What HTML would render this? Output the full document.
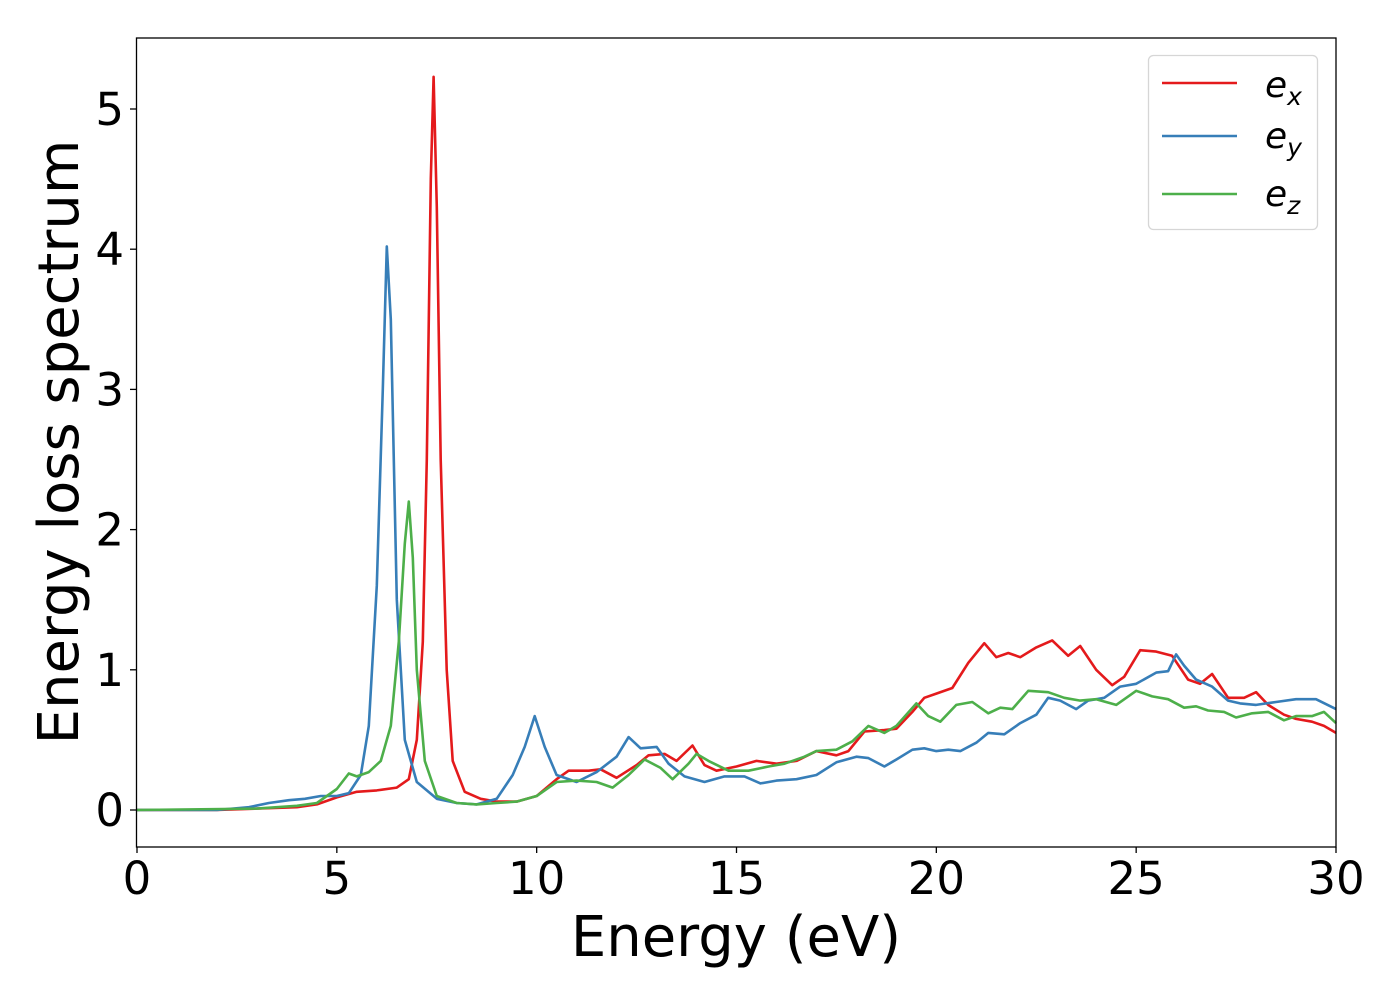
<!DOCTYPE html>
<html><head><meta charset="utf-8"><style>
body{margin:0;background:#fff}
svg{display:block}
text{font-family:"DejaVu Sans","Liberation Sans",sans-serif;fill:#000}
</style></head><body>
<svg id="chart" width="1400" height="1000" viewBox="0 0 1400 1000" xmlns="http://www.w3.org/2000/svg">
<rect x="0" y="0" width="1400" height="1000" fill="#fff"/>
<g id="series"></g>
<rect x="136.5" y="38" width="1199.5" height="809" fill="none" stroke="#000" stroke-width="1.3"/>
<g id="xticks"></g>
<g id="yticks"></g>
<text x="736" y="956" font-size="56" text-anchor="middle">Energy (eV)</text>
<text transform="translate(78,442) rotate(-90)" font-size="56" text-anchor="middle">Energy loss spectrum</text>
<g>
<rect x="1148.5" y="55.5" width="169" height="174" rx="5" fill="#fff" fill-opacity="0.8" stroke="#d6d6d6" stroke-width="1.3"/>
<line x1="1162" y1="83" x2="1237" y2="83" stroke="#e41a1c" stroke-width="2.6"/>
<text x="1265" y="97" font-size="36" font-style="italic">e<tspan font-size="25" dy="8">x</tspan></text>
<line x1="1162" y1="136" x2="1237" y2="136" stroke="#377eb8" stroke-width="2.6"/>
<text x="1265" y="148" font-size="36" font-style="italic">e<tspan font-size="25" dy="8">y</tspan></text>
<line x1="1162" y1="194" x2="1237" y2="194" stroke="#4daf4a" stroke-width="2.6"/>
<text x="1265" y="206" font-size="36" font-style="italic">e<tspan font-size="25" dy="8">z</tspan></text>
</g>
</svg>
<script>
const xTickValues=[0,5,10,15,20,25,30];
const yTickValues=[0,1,2,3,4,5];
const exE=[0,2,3,4,4.5,5,5.5,6,6.5,6.8,7.0,7.15,7.25,7.35,7.42,7.5,7.6,7.75,7.9,8.2,8.6,9,9.5,10,10.5,10.8,11.3,11.6,12,12.5,12.8,13.2,13.5,13.9,14.2,14.5,15,15.5,16,16.5,17,17.5,17.8,18.2,18.7,19,19.4,19.7,20,20.4,20.8,21.2,21.5,21.8,22.1,22.5,22.9,23.3,23.6,24,24.4,24.7,25.1,25.5,25.9,26.3,26.6,26.9,27.3,27.7,28,28.3,28.7,29,29.4,29.7,30];
const exV=[0,0,0.01,0.02,0.04,0.09,0.13,0.14,0.16,0.22,0.5,1.2,2.5,4.5,5.23,4.3,2.5,1.0,0.35,0.13,0.08,0.06,0.06,0.1,0.22,0.28,0.28,0.29,0.23,0.32,0.39,0.4,0.35,0.46,0.32,0.28,0.31,0.35,0.33,0.35,0.42,0.39,0.42,0.56,0.57,0.58,0.7,0.8,0.83,0.87,1.05,1.19,1.09,1.12,1.09,1.16,1.21,1.1,1.17,1.0,0.89,0.95,1.14,1.13,1.1,0.93,0.9,0.97,0.8,0.8,0.84,0.75,0.68,0.65,0.63,0.6,0.55];
const eyE=[0,2,2.8,3.3,3.8,4.2,4.6,5.0,5.3,5.6,5.8,6.0,6.15,6.25,6.35,6.5,6.7,7.0,7.5,8,8.5,9,9.4,9.7,9.95,10.2,10.5,11,11.5,12,12.3,12.6,13,13.3,13.7,14.2,14.7,15.2,15.6,16,16.5,17,17.5,18,18.3,18.7,19,19.4,19.7,20,20.3,20.6,21,21.3,21.7,22.1,22.5,22.8,23.1,23.5,23.8,24.2,24.6,25,25.5,25.8,26,26.2,26.5,26.9,27.3,27.6,28,28.5,29,29.5,30];
const eyV=[0,0,0.02,0.05,0.07,0.08,0.1,0.1,0.12,0.25,0.6,1.6,3.0,4.02,3.5,1.5,0.5,0.2,0.08,0.05,0.04,0.08,0.25,0.45,0.67,0.45,0.25,0.2,0.27,0.38,0.52,0.44,0.45,0.33,0.24,0.2,0.24,0.24,0.19,0.21,0.22,0.25,0.34,0.38,0.37,0.31,0.36,0.43,0.44,0.42,0.43,0.42,0.48,0.55,0.54,0.62,0.68,0.8,0.78,0.72,0.78,0.8,0.88,0.9,0.98,0.99,1.11,1.03,0.93,0.88,0.78,0.76,0.75,0.77,0.79,0.79,0.72];
const ezE=[0,3,4,4.5,5.0,5.3,5.5,5.8,6.1,6.35,6.55,6.7,6.8,6.9,7.0,7.2,7.5,8,8.5,9,9.5,10,10.5,11,11.5,11.9,12.3,12.7,13.1,13.4,13.8,14,14.3,14.8,15.3,15.8,16.2,16.7,17,17.5,17.9,18.3,18.7,19,19.5,19.8,20.1,20.5,20.9,21.3,21.6,21.9,22.3,22.8,23.2,23.6,24,24.5,25,25.4,25.8,26.2,26.5,26.8,27.2,27.5,27.9,28.3,28.7,29,29.4,29.7,30];
const ezV=[0,0.01,0.03,0.05,0.15,0.26,0.24,0.27,0.35,0.6,1.2,1.9,2.2,1.8,1.0,0.35,0.1,0.05,0.04,0.05,0.06,0.1,0.2,0.21,0.2,0.16,0.25,0.36,0.3,0.22,0.33,0.4,0.35,0.28,0.28,0.31,0.33,0.38,0.42,0.43,0.49,0.6,0.55,0.6,0.76,0.67,0.63,0.75,0.77,0.69,0.73,0.72,0.85,0.84,0.8,0.78,0.79,0.75,0.85,0.81,0.79,0.73,0.74,0.71,0.7,0.66,0.69,0.7,0.64,0.67,0.67,0.7,0.62];

const X0=137,X1=1336,Y0=810,YPER=140.2;
function xScale(v){return X0+(X1-X0)*v/30;}
function yScale(v){return Y0-v*YPER;}
const NS="http://www.w3.org/2000/svg";
const seriesG=document.getElementById('series');
function addSeries(es,vs,color,name){
  const p=document.createElementNS(NS,'polyline');
  p.setAttribute('points',es.map((e,i)=>xScale(e).toFixed(1)+','+yScale(vs[i]).toFixed(1)).join(' '));
  p.setAttribute('fill','none');p.setAttribute('stroke',color);p.setAttribute('stroke-width','2.6');
  p.setAttribute('stroke-linejoin','round');
  
  
  seriesG.appendChild(p);
}
addSeries(exE,exV,'#e41a1c','series-ex');
addSeries(eyE,eyV,'#377eb8','series-ey');
addSeries(ezE,ezV,'#4daf4a','series-ez');
const xg=document.getElementById('xticks');
xTickValues.forEach(v=>{
  const l=document.createElementNS(NS,'line');
  l.setAttribute('x1',xScale(v));l.setAttribute('x2',xScale(v));l.setAttribute('y1',847);l.setAttribute('y2',853);
  l.setAttribute('stroke','#000');l.setAttribute('stroke-width','1.3');
  
  
  xg.appendChild(l);
  const t=document.createElementNS(NS,'text');
  t.setAttribute('x',xScale(v));t.setAttribute('y',894);t.setAttribute('font-size','45');t.setAttribute('text-anchor','middle');
  t.textContent=v;
  
  
  xg.appendChild(t);
});
const yg=document.getElementById('yticks');
yTickValues.forEach(v=>{
  const l=document.createElementNS(NS,'line');
  l.setAttribute('x1',130);l.setAttribute('x2',136.5);l.setAttribute('y1',yScale(v));l.setAttribute('y2',yScale(v));
  l.setAttribute('stroke','#000');l.setAttribute('stroke-width','1.3');
  
  
  yg.appendChild(l);
  const t=document.createElementNS(NS,'text');
  t.setAttribute('x',124);t.setAttribute('y',yScale(v)+16);t.setAttribute('font-size','45');t.setAttribute('text-anchor','end');
  t.textContent=v;
  
  
  yg.appendChild(t);
});
</script>
</body></html>
